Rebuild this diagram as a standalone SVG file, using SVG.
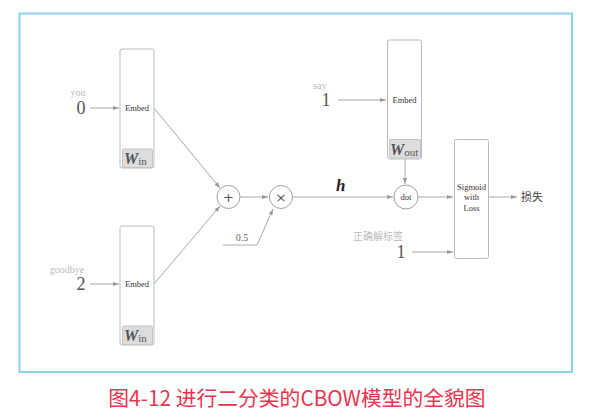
<svg xmlns="http://www.w3.org/2000/svg" width="595" height="413" viewBox="0 0 595 413">
<defs>
<style>
.box{fill:#fff;stroke:#bbb;stroke-width:1}
.wbox{fill:#ddd;stroke:#c4c4c4;stroke-width:1}
.ln{fill:none;stroke:#a8a8a8;stroke-width:1}
.circ{fill:#fff;stroke:#a0a0a0;stroke-width:1}
.sm{font-family:"Liberation Serif",serif;font-size:8.5px;fill:#333;text-anchor:middle}
.lbl{font-family:"Liberation Serif",serif;font-size:10px;fill:#bbb;text-anchor:middle}
.num{font-family:"Liberation Serif",serif;font-size:18px;fill:#555;text-anchor:middle}
.w{font-family:"Liberation Serif",serif;font-style:italic;font-weight:bold;font-size:16px;fill:#555}
.sub{font-family:"Liberation Serif",serif;font-size:11px;fill:#555}
.op{font-family:"DejaVu Sans",sans-serif;font-size:13px;fill:#555;text-anchor:middle}
.cjk{font-family:"Noto Sans CJK SC",sans-serif}
</style>
<marker id="ah" viewBox="0 0 10 10" refX="10" refY="5" markerWidth="6" markerHeight="6" orient="auto">
<path d="M0,1.5 L10,5 L0,8.5 z" fill="#999"/>
</marker>
</defs>
<rect x="19.5" y="13.5" width="552.5" height="358.5" fill="none" stroke="#8dd2e8" stroke-width="2"/>
<g id="connectors">
<path class="ln" d="M90,108 H119" marker-end="url(#ah)"/>
<path class="ln" d="M90,284 H119" marker-end="url(#ah)"/>
<path class="ln" d="M154,108 L220,188" marker-end="url(#ah)"/>
<path class="ln" d="M154,284 L220,206" marker-end="url(#ah)"/>
<path class="ln" d="M240,197 H268" marker-end="url(#ah)"/>
<path class="ln" d="M223,245 H257 L273,209" marker-end="url(#ah)"/>
<path class="ln" d="M293,197 H393" marker-end="url(#ah)"/>
<path class="ln" d="M338,100 H386" marker-end="url(#ah)"/>
<path class="ln" d="M405,159 V184" marker-end="url(#ah)"/>
<path class="ln" d="M418,197 H453" marker-end="url(#ah)"/>
<path class="ln" d="M412,252 H453" marker-end="url(#ah)"/>
<path class="ln" d="M488,197 H517" marker-end="url(#ah)"/>
</g>
<g id="input-you">
<text class="lbl" x="78" y="96">you</text>
<text class="num" x="81" y="114">0</text>
</g>
<g id="input-goodbye">
<text class="lbl" x="67" y="273">goodbye</text>
<text class="num" x="81" y="290">2</text>
</g>
<g id="input-say">
<text class="lbl" x="320" y="89">say</text>
<text class="num" x="326" y="106">1</text>
</g>
<g id="embed1">
<rect class="box" x="120" y="49" width="34" height="119" rx="2"/>
<text class="sm" x="137" y="111">Embed</text>
<rect class="wbox" x="122.5" y="149" width="30" height="18.5" rx="1.5"/>
<text x="124" y="164"><tspan class="w">W</tspan><tspan class="sub" dy="1">in</tspan></text>
</g>
<g id="embed2">
<rect class="box" x="120" y="226" width="34" height="119" rx="2"/>
<text class="sm" x="137" y="287">Embed</text>
<rect class="wbox" x="122.5" y="326" width="30" height="18.5" rx="1.5"/>
<text x="124" y="341"><tspan class="w">W</tspan><tspan class="sub" dy="1">in</tspan></text>
</g>
<g id="embed3">
<rect class="box" x="387.5" y="40" width="34" height="119" rx="2"/>
<text class="sm" x="404.5" y="103">Embed</text>
<rect class="wbox" x="389.5" y="139.5" width="31" height="18.5" rx="1.5"/>
<text x="390" y="154.5"><tspan class="w">W</tspan><tspan class="sub" dy="1">out</tspan></text>
</g>
<g id="plus">
<circle class="circ" cx="228.5" cy="197" r="11.5"/>
<text class="op" x="228.5" y="201.5">+</text>
</g>
<g id="times">
<circle class="circ" cx="281" cy="197" r="11.5"/>
<text class="op" x="281" y="201.5">×</text>
</g>
<g id="half">
<text class="lbl" x="242" y="241" style="fill:#666">0.5</text>
</g>
<g id="h-label">
<text x="336" y="191" style="font-family:'Liberation Serif',serif;font-style:italic;font-weight:bold;font-size:17px;fill:#222">h</text>
</g>
<g id="dot">
<circle class="circ" cx="406" cy="197" r="12"/>
<text class="sm" x="406" y="200">dot</text>
</g>
<g id="sigmoid">
<rect class="box" x="454.5" y="139.5" width="34" height="119" rx="2"/>
<text class="sm" x="471.5" y="189.5">Sigmoid</text>
<text class="sm" x="471.5" y="200">with</text>
<text class="sm" x="471.5" y="210.5">Loss</text>
</g>
<g id="label">
<text class="lbl cjk" x="378" y="240">正确解标签</text>
<text class="num" x="401" y="258">1</text>
</g>
<g id="loss">
<text x="521" y="201" style="font-family:'Noto Sans CJK SC',sans-serif;font-size:11px;fill:#444">损失</text>
</g>
<text x="297" y="406" style="font-family:'Noto Sans CJK SC',sans-serif;font-size:20.8px;fill:#e8354f;text-anchor:middle">图4-12 进行二分类的CBOW模型的全貌图</text>
</svg>
